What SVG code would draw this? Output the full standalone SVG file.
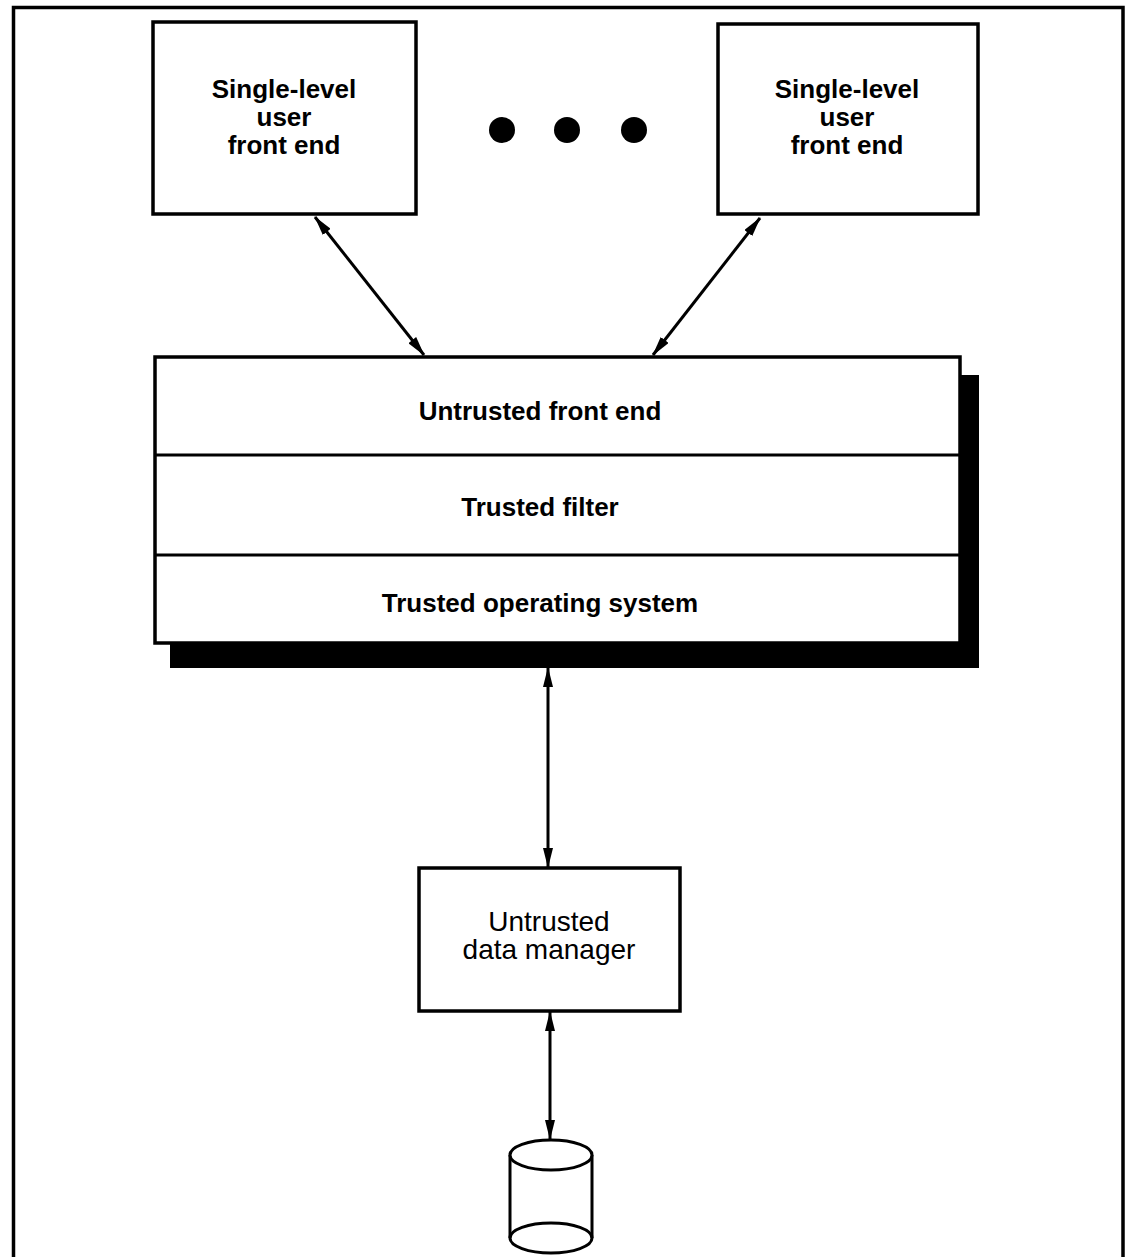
<svg xmlns="http://www.w3.org/2000/svg" width="1125" height="1257" viewBox="0 0 1125 1257">
<defs>
<style>
.box{fill:#fff;stroke:#000;stroke-width:3.5}
.lbl{font-family:"Liberation Sans",Arial,sans-serif;font-size:26px;font-weight:bold;text-anchor:middle;fill:#000}
.lbl2{font-family:"Liberation Sans",Arial,sans-serif;font-size:28px;text-anchor:middle;fill:#000}
.conn{stroke:#000;stroke-width:3;fill:none;marker-start:url(#ah);marker-end:url(#ah)}
</style>
<marker id="ah" viewBox="0 0 20 10" refX="19" refY="5" markerWidth="20" markerHeight="10" markerUnits="userSpaceOnUse" orient="auto-start-reverse">
<path d="M0,0 L20,5 L0,10 Z" fill="#000"/>
</marker>
</defs>
<rect width="1125" height="1257" fill="#fff"/>
<path d="M13.5,1260 V7.5 H1123 V1260" fill="none" stroke="#000" stroke-width="3.5"/>

<g id="frontend-left">
<rect class="box" x="153" y="22" width="263" height="192"/>
<text class="lbl" x="284" y="98">Single-level</text>
<text class="lbl" x="284" y="126">user</text>
<text class="lbl" x="284" y="154">front end</text>
</g>

<g id="ellipsis">
<circle cx="502" cy="130" r="13" fill="#000"/>
<circle cx="567" cy="130" r="13" fill="#000"/>
<circle cx="634" cy="130" r="13" fill="#000"/>
</g>

<g id="frontend-right">
<rect class="box" x="718" y="24" width="260" height="190"/>
<text class="lbl" x="847" y="98">Single-level</text>
<text class="lbl" x="847" y="126">user</text>
<text class="lbl" x="847" y="154">front end</text>
</g>

<g id="tcb-stack">
<rect x="170" y="375" width="809" height="293" fill="#000"/>
<rect class="box" x="155" y="357" width="805" height="286" stroke-width="3"/>
<line x1="155" y1="455" x2="960" y2="455" stroke="#000" stroke-width="3"/>
<line x1="155" y1="555" x2="960" y2="555" stroke="#000" stroke-width="3"/>
<text class="lbl" x="540" y="420">Untrusted front end</text>
<text class="lbl" x="540" y="516">Trusted filter</text>
<text class="lbl" x="540" y="612">Trusted operating system</text>
</g>

<g id="data-manager">
<rect class="box" x="419" y="868" width="261" height="143"/>
<text class="lbl2" x="549" y="931">Untrusted</text>
<text class="lbl2" x="549" y="959">data manager</text>
</g>

<g id="database">
<path d="M510,1155 V1238 A41,15 0 0 0 592,1238 V1155" fill="#fff" stroke="#000" stroke-width="3"/>
<ellipse cx="551" cy="1155" rx="41" ry="15" fill="#fff" stroke="#000" stroke-width="3"/>
<path d="M510,1238 A41,15 0 0 1 592,1238" fill="none" stroke="#000" stroke-width="3"/>
</g>

<g id="connectors">
<line class="conn" x1="315" y1="217" x2="424" y2="355"/>
<line class="conn" x1="760" y1="218" x2="653" y2="355"/>
<line class="conn" x1="548" y1="668" x2="548" y2="867"/>
<line class="conn" x1="550" y1="1012" x2="550" y2="1139" stroke-width="2"/>
</g>
</svg>
